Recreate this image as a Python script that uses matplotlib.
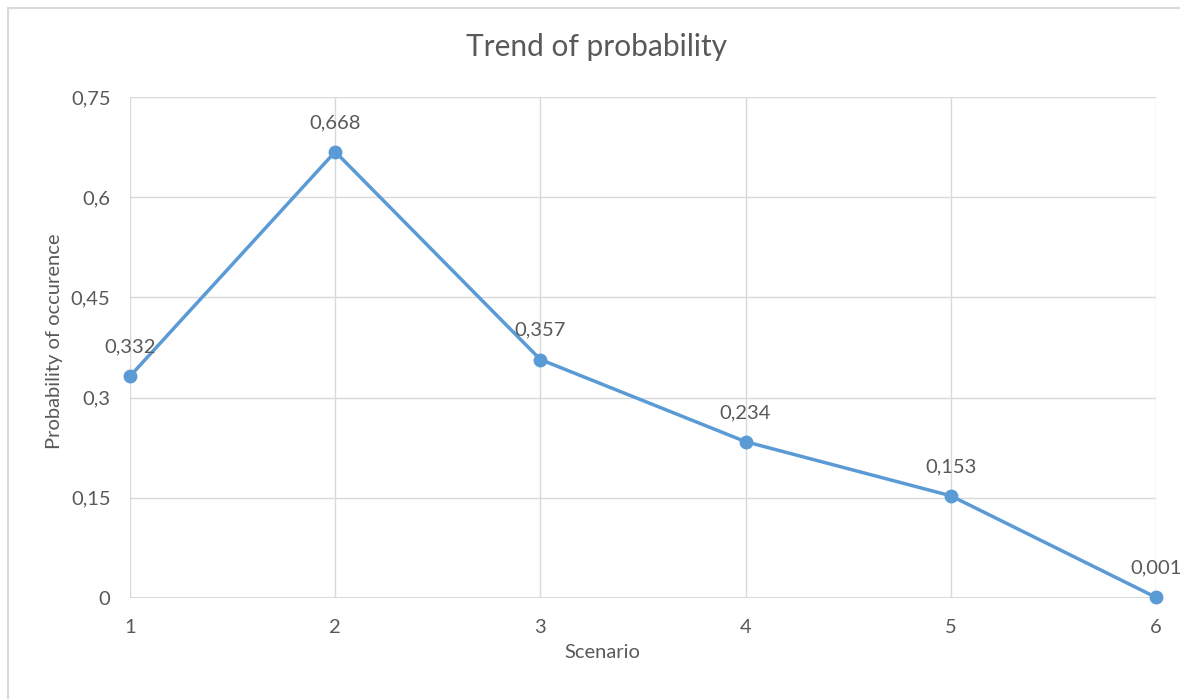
import matplotlib
matplotlib.use("Agg")
import matplotlib.pyplot as plt
from matplotlib.patches import Rectangle

scenarios = [1, 2, 3, 4, 5, 6]
probabilities = [0.332, 0.668, 0.357, 0.234, 0.153, 0.001]
y_ticks = [0, 0.15, 0.3, 0.45, 0.6, 0.75]
y_tick_labels = ["0", "0,15", "0,3", "0,45", "0,6", "0,75"]
point_labels = ["0,332", "0,668", "0,357", "0,234", "0,153", "0,001"]

plt.rcParams['font.family'] = ['Lato', 'DejaVu Sans']
TEXT = "#595959"
GRID = "#D9D9D9"
BLUE = "#5B9BD5"
FS = 14.5

W, H = 1180, 699
fig = plt.figure(figsize=(W / 100, H / 100), dpi=100)
fig.patch.set_facecolor("white")
fig.patches.append(Rectangle((8 / W, -0.1), 1.2, 1 - 8 / H + 0.1, transform=fig.transFigure,
                             fill=False, edgecolor="#D9D9D9", linewidth=1.5, zorder=0))

ax = fig.add_axes([130 / W, 1 - 598 / H, (1156 - 130) / W, (598 - 97) / H])
ax.set_xlim(1, 6)
ax.set_ylim(0, 0.75)
ax.set_yticks(y_ticks)
ax.set_yticklabels(y_tick_labels)
ax.set_xticks(scenarios)
ax.set_xticklabels([str(s) for s in scenarios])
ax.tick_params(length=0, labelsize=FS, colors=TEXT, pad=14)
ax.tick_params(axis='x', pad=15)
ax.grid(True, color=GRID, linewidth=1)
for s in ax.spines.values():
    s.set_visible(False)
ax.axhline(0, color=GRID, linewidth=1.5, zorder=1)

ax.plot(scenarios, probabilities, color=BLUE, linewidth=2.5, marker='o', markersize=9,
        zorder=3, clip_on=False)
for x, y, lab in zip(scenarios, probabilities, point_labels):
    ax.annotate(lab, (x, y), xytext=(0, 21), textcoords='offset points', ha='center',
                va='center', fontsize=FS, color=TEXT, zorder=4)

fig.text(602 / W, 1 - 652 / H, "Scenario", ha='center', va='center', fontsize=FS, color=TEXT)
fig.text(55 / W, 1 - 341 / H, "Probability of occurence", ha='center', va='center',
         rotation=90, fontsize=FS, color=TEXT)
fig.text(596 / W, 1 - 47 / H, "Trend of probability", ha='center', va='center',
         fontsize=21.5, color=TEXT)

fig.savefig("out.png", dpi=100)
